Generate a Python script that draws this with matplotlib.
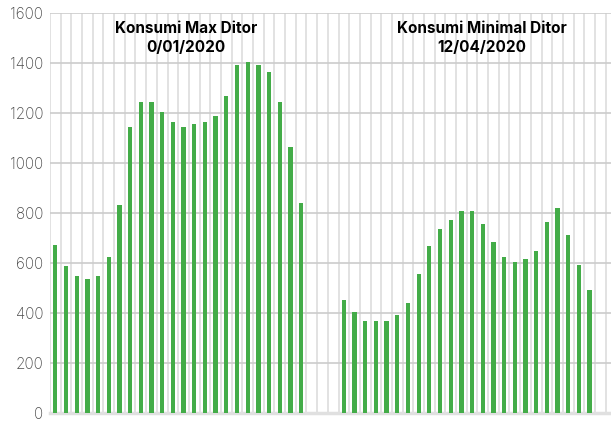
import matplotlib
matplotlib.use('Agg')
import matplotlib.pyplot as plt
import numpy as np

# Konsumi per ore, dita me konsum maksimal dhe minimal
konsumi_max = [670, 590, 550, 537, 550, 625, 830, 1145, 1245, 1245, 1205, 1165,
               1145, 1157, 1165, 1189, 1269, 1393, 1405, 1393, 1365, 1245, 1065, 841]
konsumi_min = [453, 405, 369, 369, 369, 393, 441, 557, 669, 737, 773, 809,
               809, 757, 685, 625, 605, 617, 649, 765, 821, 713, 593, 493]
titulli_max = "Konsumi Max Ditor\n0/01/2020"
titulli_min = "Konsumi Minimal Ditor\n12/04/2020"
bosh = 3  # kategori bosh midis dy grupeve
y_ticks = [0, 200, 400, 600, 800, 1000, 1200, 1400, 1600]

plt.rcParams['font.family'] = ['Inter', 'DejaVu Sans']

fig = plt.figure(figsize=(6.11, 4.23), dpi=100)
ax = fig.add_axes([50 / 611, 10 / 423, 561 / 611, 400 / 423])

x_max = np.arange(len(konsumi_max))
x_min = np.arange(len(konsumi_min)) + len(konsumi_max) + bosh
n_tot = len(konsumi_max) + bosh + len(konsumi_min) + 1

ax.bar(x_max, konsumi_max, width=0.4, color='#43ac48', zorder=3)
ax.bar(x_min, konsumi_min, width=0.4, color='#43ac48', zorder=3)

ax.set_xlim(-0.5, n_tot)
ax.set_ylim(0, 1600)
ax.set_yticks(y_ticks)
ax.set_yticklabels([str(v) for v in y_ticks], fontsize=11, color='#4a4a4a',
                   fontweight='light')
ax.set_xticks(np.arange(-0.5, n_tot, 1))
ax.set_xticklabels([])
ax.tick_params(axis='both', length=0)
ax.tick_params(axis='y', pad=5)

ax.grid(axis='x', color='#dadada', linewidth=1.1, zorder=0)
ax.grid(axis='y', color='#cccccc', linewidth=1.2, zorder=0)
for s in ['left', 'right', 'top']:
    ax.spines[s].set_visible(False)
ax.spines['bottom'].set_color('#e0e0e0')
ax.spines['bottom'].set_linewidth(2.5)

ax.text(12.2, 1500, titulli_max, ha='center', va='center', fontsize=11,
        fontweight='bold', linespacing=1.3, zorder=4)
ax.text(39.9, 1500, titulli_min, ha='center', va='center', fontsize=11,
        fontweight='bold', linespacing=1.3, zorder=4)

plt.savefig('out.png', dpi=100)
plt.close()
